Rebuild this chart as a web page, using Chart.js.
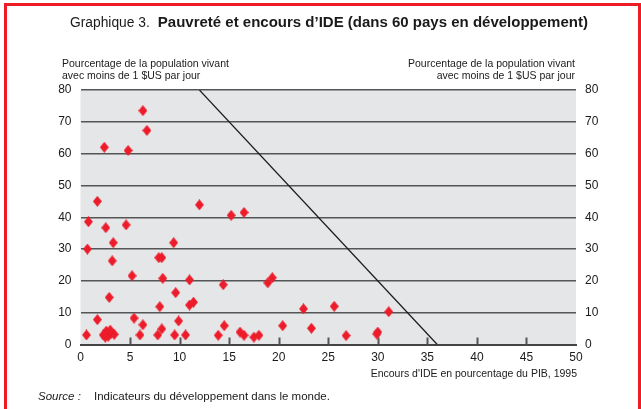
<!DOCTYPE html>
<html lang="fr">
<head>
  <meta charset="UTF-8">
  <title>Pauvreté et encours d'IDE</title>
  <script src="https://cdn.jsdelivr.net/npm/chart.js"></script>
  <style>
    body { margin: 0; background: #fff; font-family: "Liberation Sans", Arial, sans-serif; color: #1a1a1a; }
    .page { position: relative; width: 641px; height: 409px; overflow: hidden; }
    .frame { position: absolute; left: 4px; top: 3px; width: 631px; height: 420px;
             border: 3px solid #ee1c25; border-bottom: none; }
    .title { position: absolute; top: 13px; left: 70px; font-size: 15px; white-space: nowrap; }
    .title span { font-size: 13.8px; }
    .title b { margin-left: 8px; }
    .ylab { position: absolute; top: 57px; font-size: 10.5px; line-height: 12px; white-space: nowrap; }
    .ylab.left { left: 62px; }
    .ylab.right { right: 66px; text-align: right; }
    .xlab { position: absolute; top: 367px; right: 64px; font-size: 10.5px; white-space: nowrap; }
    .source { position: absolute; top: 390px; left: 38px; font-size: 11.5px; white-space: nowrap; }
    .source i { margin-right: 10px; }
    .chart { position: absolute; left: 0; top: 0; width: 641px; height: 409px; }
  </style>
</head>
<body>
<div class="page">
  <div class="frame"></div>
  <div class="chart"><canvas id="chart-ide"></canvas></div>
  <div class="title"><span>Graphique 3.</span><b>Pauvreté et encours d’IDE (dans 60 pays en développement)</b></div>
  <div class="ylab left">Pourcentage de la population vivant<br>avec moins de 1 $US par jour</div>
  <div class="ylab right">Pourcentage de la population vivant<br>avec moins de 1 $US par jour</div>
  <div class="xlab">Encours d'IDE en pourcentage du PIB, 1995</div>
  <div class="source"><i>Source :</i> Indicateurs du développement dans le monde.</div>
</div>

<script>
  // stock of FDI (% of GDP) and share of population under $1/day
  const ideX = [6.3, 6.7, 2.4, 4.8, 1.7, 0.8, 2.55, 4.6, 3.3, 9.4,
                0.7, 7.9, 8.2, 3.2, 5.2, 8.3, 11.0, 9.6, 2.9, 8.0,
                11.0, 11.4, 1.7, 5.4, 6.3, 9.9, 8.2, 0.6, 2.3, 2.6,
                2.8, 3.1, 3.4, 6.0, 7.8, 9.5, 10.6, 12.0, 15.2, 16.5,
                14.4, 18.9, 19.35, 22.5, 14.5, 20.4, 23.3, 13.9, 16.1, 16.5,
                17.5, 18.0, 25.6, 31.1, 26.8, 30.0, 2.5, 3.0, 29.9];
  const pauvY = [73.5, 67.3, 62.0, 61.0, 45.0, 38.6, 36.7, 37.6, 32.0, 32.0,
                 30.0, 27.3, 27.3, 26.3, 21.6, 20.8, 20.3, 16.3, 14.8, 11.9,
                 12.4, 13.3, 7.8, 8.3, 6.2, 7.4, 4.9, 3.0, 3.0, 4.2,
                 2.6, 3.6, 3.2, 3.0, 3.0, 3.0, 3.0, 43.9, 40.6, 41.5,
                 18.8, 19.4, 21.0, 11.2, 5.9, 5.9, 5.1, 2.9, 3.9, 2.9,
                 2.3, 2.9, 12.0, 10.3, 2.8, 3.9, 2.3, 4.5, 3.3];
  // trend line ends
  const lineX = [12, 36];
  const lineY = [80, 0];
  const xTicks = [5, 10, 15, 20, 25, 30, 35, 40, 45];

  const points = ideX.map((x, i) => ({ x, y: pauvY[i] }));
  const trend = lineX.map((x, i) => ({ x, y: lineY[i] }));

  // slightly tall red diamond
  const diamond = document.createElement('canvas');
  diamond.width = 9; diamond.height = 11;
  const dctx = diamond.getContext('2d');
  dctx.fillStyle = '#ec1c2a';
  dctx.beginPath();
  dctx.moveTo(4.5, 0); dctx.lineTo(9, 5.5); dctx.lineTo(4.5, 11); dctx.lineTo(0, 5.5);
  dctx.closePath(); dctx.fill();

  const plotBg = {
    id: 'plotBg',
    beforeDraw(chart) {
      const { ctx, chartArea: a } = chart;
      ctx.save();
      ctx.fillStyle = '#e5e6e8';
      ctx.fillRect(a.left, a.top, a.right - a.left, a.bottom - a.top);
      ctx.restore();
    },
    beforeDatasetsDraw(chart) {
      // small tick marks pointing up from the x axis
      const { ctx, chartArea: a, scales } = chart;
      ctx.save();
      ctx.strokeStyle = '#555';
      ctx.lineWidth = 2;
      xTicks.forEach(v => {
        const px = Math.round(scales.x.getPixelForValue(v)) + 0.5;
        ctx.beginPath();
        ctx.moveTo(px, a.bottom);
        ctx.lineTo(px, a.bottom - 7);
        ctx.stroke();
      });
      ctx.restore();
    }
  };

  const tickFont = { family: '"Liberation Sans", Arial, sans-serif', size: 12 };

  new Chart(document.getElementById('chart-ide'), {
    type: 'scatter',
    data: {
      datasets: [
        { data: points, pointStyle: diamond, pointRadius: 5, pointHoverRadius: 5, order: 1 },
        { type: 'line', data: trend, borderColor: '#1a1a1a', borderWidth: 1.2,
          pointRadius: 0, fill: false, order: 2 }
      ]
    },
    options: {
      animation: false,
      maintainAspectRatio: false,
      responsive: true,
      layout: { padding: { top: 90, left: 0, right: 0, bottom: 0 } },
      plugins: { legend: { display: false }, tooltip: { enabled: false } },
      scales: {
        x: {
          type: 'linear', min: 0, max: 50,
          afterFit: s => { s.height = 64.5; },
          grid: { display: false, drawTicks: false },
          border: { display: true, color: '#444', width: 2 },
          ticks: { stepSize: 5, color: '#1a1a1a', font: tickFont, padding: 6, maxRotation: 0 }
        },
        y: {
          position: 'left', min: 0, max: 80,
          afterFit: s => { s.width = 80.5; },
          grid: { color: '#555', lineWidth: 1.5, drawTicks: false },
          border: { display: false },
          ticks: { stepSize: 10, color: '#1a1a1a', font: tickFont, padding: 9 }
        },
        y2: {
          position: 'right', min: 0, max: 80,
          afterFit: s => { s.width = 65; },
          grid: { display: false, drawTicks: false },
          border: { display: false },
          ticks: { stepSize: 10, color: '#1a1a1a', font: tickFont, padding: 9 }
        }
      }
    },
    plugins: [plotBg]
  });
</script>
</body>
</html>
